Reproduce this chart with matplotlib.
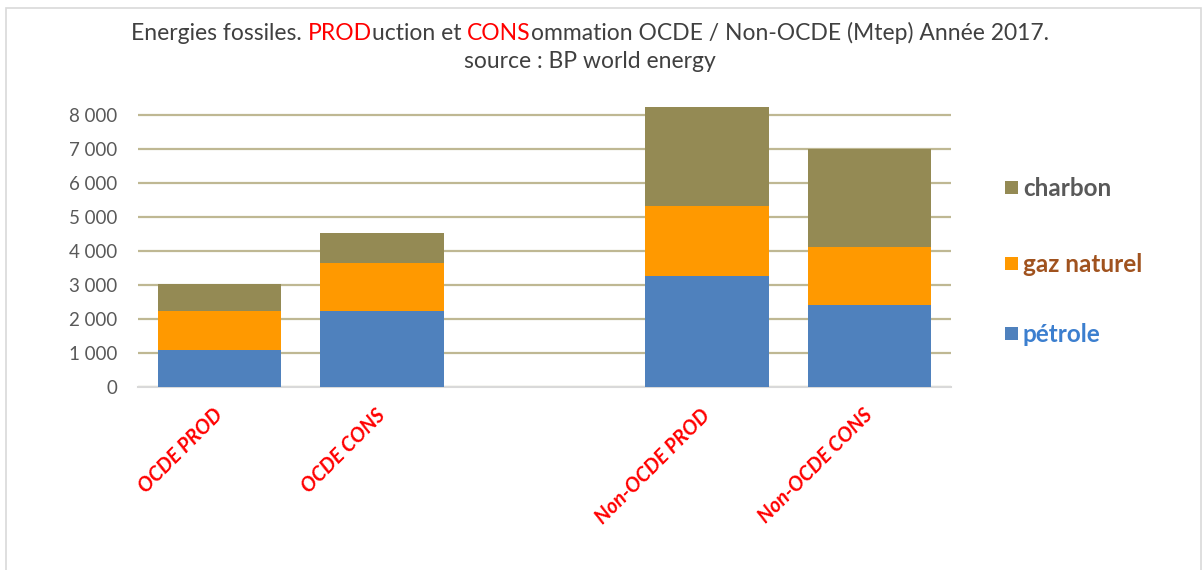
import matplotlib
matplotlib.use("Agg")
import matplotlib.pyplot as plt
from matplotlib.patches import Rectangle
from matplotlib.ticker import FuncFormatter

plt.rcParams['font.family'] = ['Lato', 'DejaVu Sans']

# Production / consumption of fossil fuels, Mtep, 2017 (blank slot separates the groups)
categories = ["OCDE PROD", "OCDE CONS", "", "Non-OCDE PROD", "Non-OCDE CONS"]
petrole = [1090, 2240, 0, 3260, 2410]
gaz_naturel = [1145, 1410, 0, 2060, 1700]
charbon = [795, 880, 0, 2910, 2880]

series_names = ["pétrole", "gaz naturel", "charbon"]
series_colors = ["#4f81bd", "#ff9900", "#948a54"]
legend_text_colors = ["#3c7fcf", "#a0521e", "#595959"]
yticks = [0, 1000, 2000, 3000, 4000, 5000, 6000, 7000, 8000]

W, H = 1203, 570
fig = plt.figure(figsize=(W / 100, H / 100), dpi=100)
ax = fig.add_axes([138 / W, 1 - 387 / H, (951 - 138) / W, (387 - 101) / H])

x = list(range(len(categories)))
bottom = [0] * len(categories)
for vals, name, col in zip([petrole, gaz_naturel, charbon], series_names, series_colors):
    ax.bar(x, vals, width=0.76, bottom=bottom, color=col, zorder=3, label=name)
    bottom = [b + v for b, v in zip(bottom, vals)]

ax.set_xlim(-0.5, len(categories) - 0.5)
ax.set_ylim(0, 8400)
ax.set_yticks(yticks)
ax.yaxis.set_major_formatter(FuncFormatter(lambda v, p: f"{int(v):,}".replace(",", " ")))
ax.grid(axis='y', color="#bfb893", linewidth=1.6, zorder=0)
for s in ["top", "right", "left"]:
    ax.spines[s].set_visible(False)
ax.spines["bottom"].set_color("#d9d9d9")
ax.spines["bottom"].set_linewidth(1.5)
ax.tick_params(axis='y', length=0, pad=15, labelsize=13.5, labelcolor="#595959")
ax.tick_params(axis='x', length=0, pad=18)

ax.set_xticks(x)
ax.set_xticklabels(categories, rotation=45, ha='right', va='center',
                   rotation_mode='anchor', color="#ff0000",
                   fontsize=14.5, fontweight='bold', fontstyle='italic')

# Legend, top-down order: charbon, gaz naturel, pétrole
legend_rows_y = [188, 264, 334]
for name, col, tcol, yy in zip(series_names[::-1], series_colors[::-1],
                               legend_text_colors[::-1], legend_rows_y):
    fig.patches.append(Rectangle((1005 / W, 1 - (yy + 6) / H), 13 / W, 13 / H,
                                 transform=fig.transFigure, facecolor=col,
                                 edgecolor='none'))
    fig.text(1023 / W, 1 - yy / H, name, color=tcol, fontsize=17.5,
             fontweight='bold', va='center', ha='left')

# Title with highlighted fragments
pieces = [("Energies fossiles. ", "#404040"), ("PROD", "#ff0000"),
          ("uction et ", "#404040"), ("CONS", "#ff0000"),
          ("ommation OCDE / Non-OCDE (Mtep) Année 2017.", "#404040")]
renderer = fig.canvas.get_renderer()
title_size = 16.5


def text_width(s):
    t = fig.text(0, 0, s + "|", fontsize=title_size)
    bar = fig.text(0, 0, "|", fontsize=title_size)
    w = t.get_window_extent(renderer).width - bar.get_window_extent(renderer).width
    t.remove()
    bar.remove()
    return w


full = "".join(p for p, _ in pieces)
x0 = 590 - text_width(full) / 2
prefix = ""
for t, c in pieces:
    fig.text((x0 + text_width(prefix)) / W, 1 - 33 / H, t, color=c,
             fontsize=title_size, va='center', ha='left')
    prefix += t
fig.text(590 / W, 1 - 62 / H, "source : BP world energy", color="#404040",
         fontsize=title_size, va='center', ha='center')

# Thin frame around the chart area
fig.patches.append(Rectangle((6 / W, -0.05), (1201 - 6) / W, 1.05 - 8 / H,
                             transform=fig.transFigure, fill=False,
                             edgecolor="#d9d9d9", linewidth=1.2))

fig.savefig("out.png", dpi=100)
